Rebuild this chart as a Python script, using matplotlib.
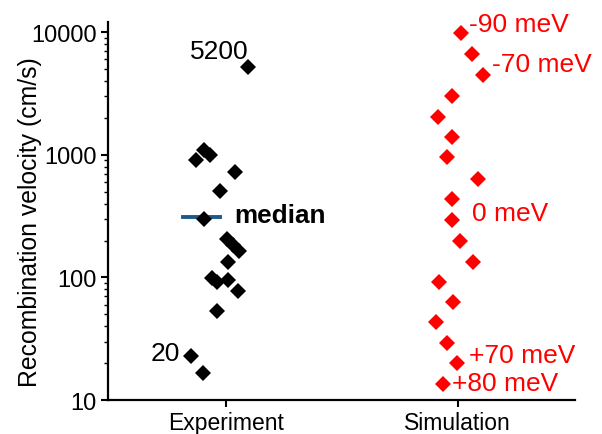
import matplotlib
matplotlib.use("Agg")
import matplotlib.pyplot as plt
from matplotlib.ticker import LogLocator, NullFormatter, FixedLocator

plt.rcParams["font.family"] = ["Liberation Sans", "DejaVu Sans"]

categories = ["Experiment", "Simulation"]

# experiment: recombination velocities (cm/s) and horizontal jitter
exp_values = [5200, 900, 1085, 990, 730, 510, 300, 207, 185, 165,
              134, 99, 92, 96, 78, 53, 23, 16.6]
exp_jitter = [0.095, -0.129, -0.095, -0.069, 0.039, -0.026, -0.095, 0.004, 0.030, 0.056,
              0.009, -0.060, -0.039, 0.009, 0.052, -0.039, -0.151, -0.099]
exp_median = 312

# simulation: -90 meV ... +80 meV
sim_values = [9800, 6600, 4450, 3000, 2050, 1410, 968, 640, 440,
              296, 199, 134, 92, 63, 43, 29, 20, 13.5]
sim_jitter = [0.013, 0.060, 0.108, -0.026, -0.086, -0.026, -0.047, 0.086, -0.026,
              -0.026, 0.009, 0.065, -0.082, -0.022, -0.095, -0.047, -0.004, -0.065]

sim_labels = ["-90 meV", "-70 meV", "0 meV", "+70 meV", "+80 meV"]
sim_label_pos = [(2.047, 11600), (2.147, 5480), (2.06, 337), (2.047, 23.3), (1.974, 13.7)]

fig = plt.figure(figsize=(6.02, 4.35), dpi=100)
ax = fig.add_axes([0.179, 0.078, 0.776, 0.868])

ax.plot([1 + j for j in exp_jitter], exp_values, "D", color="black",
        markersize=8, markeredgewidth=0, zorder=3)
ax.plot([2 + j for j in sim_jitter], sim_values, "D", color="#ff0000",
        markersize=8, markeredgewidth=0, zorder=3)
ax.plot([0.815, 0.974], [exp_median, exp_median], color="#1a5b8c", lw=2.8, zorder=2)

ax.text(0.97, 7000, "5200", fontsize=19, ha="center", va="center")
ax.text(0.80, 24, "20", fontsize=19, ha="right", va="center")
ax.text(1.034, 325, "median", fontsize=18.8, fontweight="bold", ha="left", va="center")
for lab, (x, y) in zip(sim_labels, sim_label_pos):
    ax.text(x, y, lab, fontsize=19, color="#ff0000", ha="left", va="center")

ax.set_yscale("log")
ax.set_ylim(10, 12000)
ax.set_xlim(0.49, 2.505)
ax.yaxis.set_major_locator(FixedLocator([10, 100, 1000, 10000]))
ax.set_yticklabels(["10", "100", "1000", "10000"])
ax.yaxis.set_minor_locator(LogLocator(base=10, subs=range(2, 10)))
ax.yaxis.set_minor_formatter(NullFormatter())
ax.set_xticks([1, 2])
ax.set_xticklabels(categories)
ax.set_ylabel("Recombination velocity (cm/s)", fontsize=17.8)
ax.yaxis.set_label_coords(-0.141, 0.474)

for s in ["top", "right"]:
    ax.spines[s].set_visible(False)
for s in ["left", "bottom"]:
    ax.spines[s].set_linewidth(1.6)
ax.tick_params(axis="y", which="major", length=5, width=1.5, labelsize=17, pad=3)
ax.tick_params(axis="y", which="minor", length=3, width=1)
ax.tick_params(axis="x", which="major", length=5, width=1.5, labelsize=16.5, pad=3)

fig.savefig("out.png", dpi=100)
